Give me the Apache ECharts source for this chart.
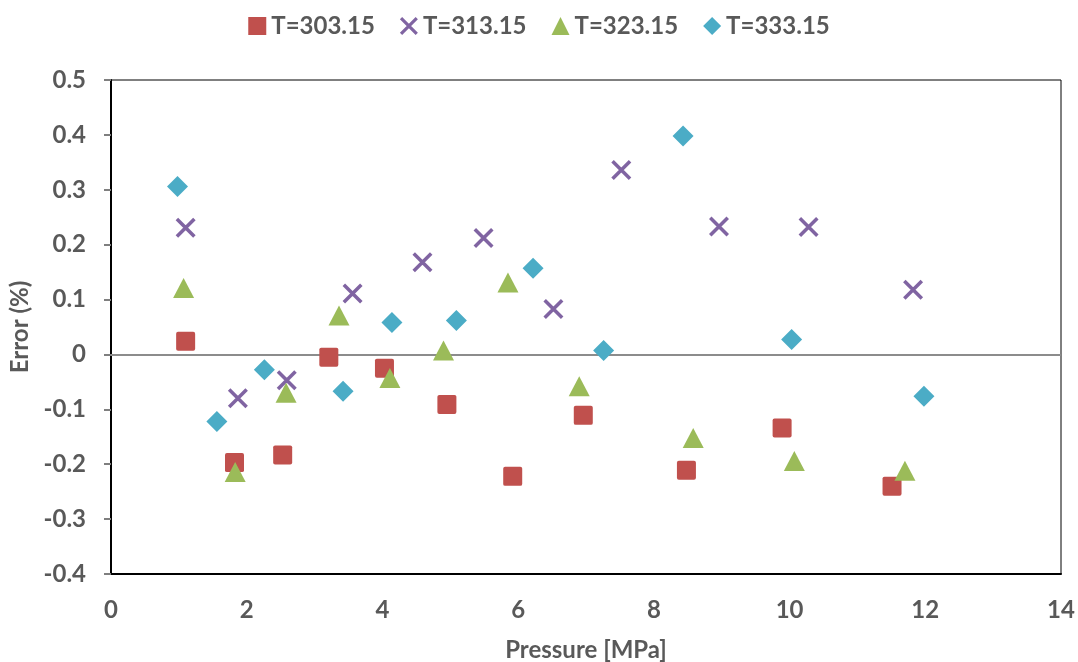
<!DOCTYPE html>
<html>
<head>
<meta charset="utf-8">
<script src="https://cdn.jsdelivr.net/npm/echarts@6/dist/echarts.min.js"></script>
<style>html,body{margin:0;padding:0;background:#fff}#c{width:1078px;height:662px}</style>
</head>
<body>
<div id="c"></div>
<script>
const seriesNames = ['T=303.15', 'T=313.15', 'T=323.15', 'T=333.15'];
const t303 = [[1.10,0.024],[1.82,-0.197],[2.53,-0.183],[3.21,-0.005],[4.03,-0.025],[4.95,-0.091],[5.92,-0.222],[6.96,-0.111],[8.48,-0.211],[9.89,-0.134],[11.51,-0.240]];
const t313 = [[1.10,0.231],[1.87,-0.080],[2.59,-0.047],[3.56,0.111],[4.59,0.168],[5.49,0.212],[6.52,0.083],[7.52,0.336],[8.96,0.233],[10.28,0.232],[11.82,0.118]];
const t323 = [[1.07,0.121],[1.83,-0.214],[2.58,-0.070],[3.36,0.071],[4.11,-0.043],[4.90,0.007],[5.85,0.131],[6.90,-0.058],[8.58,-0.152],[10.07,-0.194],[11.70,-0.212]];
const t333 = [[0.98,0.306],[1.56,-0.122],[2.26,-0.028],[3.42,-0.067],[4.14,0.058],[5.09,0.062],[6.22,0.157],[7.26,0.007],[8.43,0.398],[10.03,0.027],[11.98,-0.076]];

const colors = ['#C0504D', '#8064A2', '#9BBB59', '#4BACC6'];
const xSym = 'path://M2.5,0 L20,17.5 L17.5,20 L0,2.5 Z M17.5,0 L20,2.5 L2.5,20 L0,17.5 Z';
const sqSym = 'path://M2,0 L18,0 Q20,0 20,2 L20,18 Q20,20 18,20 L2,20 Q0,20 0,18 L0,2 Q0,0 2,0 Z';
const symbols = [sqSym, xSym, 'triangle', 'diamond'];
const sizes = [19, 20, [21, 20], [21, 21]];
const datas = [t303, t313, t323, t333];
const font = 'Lato, "Open Sans", sans-serif';
const gray = '#595959';

const chart = echarts.init(document.getElementById('c'), null, {renderer: 'canvas'});
const series = datas.map((d, i) => ({
  name: seriesNames[i],
  type: 'scatter',
  data: d,
  symbol: symbols[i],
  symbolSize: sizes[i],
  itemStyle: {color: colors[i], opacity: 1},
  z: 3 + i
}));
series[0].markLine = {
  silent: true,
  symbol: 'none',
  label: {show: false},
  lineStyle: {color: '#8C8C8C', width: 2, type: 'solid'},
  data: [{yAxis: 0}],
  z: 1
};

chart.setOption({
  animation: false,
  color: colors,
  legend: {
    top: 9,
    left: 'center',
    itemGap: 25,
    itemWidth: 18,
    itemHeight: 18,
    textStyle: {fontFamily: font, fontSize: 24, fontWeight: 'bold', color: gray},
    data: seriesNames.map((n, i) => ({name: n, icon: i === 0 ? 'rect' : symbols[i]}))
  },
  grid: {left: 111, right: 17, top: 80, bottom: 88, show: true, borderColor: '#000', borderWidth: 1,
         containLabel: false, outerBoundsMode: 'none'},
  xAxis: {
    type: 'value', min: 0, max: 14, interval: 2,
    name: 'Pressure [MPa]', nameLocation: 'middle', nameGap: 64,
    nameTextStyle: {fontFamily: font, fontSize: 24, fontWeight: 'bold', color: gray},
    axisLine: {show: true, onZero: false, lineStyle: {color: '#000', width: 2}},
    axisTick: {show: false},
    splitLine: {show: false},
    axisLabel: {margin: 24, fontFamily: font, fontSize: 24, fontWeight: 'bold', color: gray}
  },
  yAxis: {
    type: 'value', min: -0.4, max: 0.5, interval: 0.1,
    name: 'Error (%)', nameLocation: 'middle', nameGap: 68,
    nameTextStyle: {fontFamily: font, fontSize: 24, fontWeight: 'bold', color: gray},
    axisLine: {show: true, onZero: false, lineStyle: {color: '#000', width: 2}},
    axisTick: {show: true, inside: false, length: 7, lineStyle: {color: '#7F7F7F', width: 2}},
    splitLine: {show: false},
    axisLabel: {margin: 25, fontFamily: font, fontSize: 24, fontWeight: 'bold', color: gray,
      formatter: v => { const r = Math.round(v * 10) / 10; return r === 0 ? '0' : r.toFixed(1); }}
  },
  series: series
});
</script>
</body>
</html>
